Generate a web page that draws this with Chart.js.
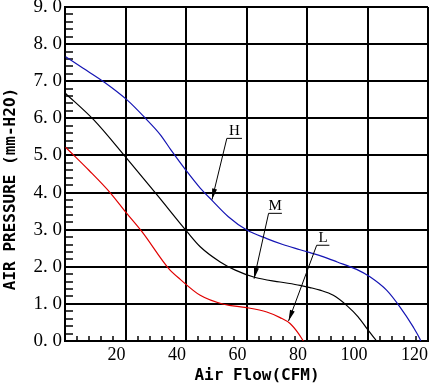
<!DOCTYPE html>
<html>
<head>
<meta charset="UTF-8">
<script src="https://cdn.jsdelivr.net/npm/chart.js"></script>
<title>Air pressure vs air flow</title>
<style>
  html, body { margin: 0; padding: 0; background: #fff; }
</style>
</head>
<body>
<canvas id="myChart" width="438" height="387"></canvas>
<script>
  // curve H (blue)
  const hFlow = [0.2, 6, 12.9, 20.6, 26.6, 31.6, 35, 40, 44.7, 48.6, 54, 60.1, 66.7, 72, 77.7, 81, 85, 90, 96.4, 100.8, 106.3, 110.7, 115.1, 117.3, 117.6];
  const hPres = [7.66, 7.35, 6.98, 6.49, 6.0, 5.55, 5.15, 4.6, 4.12, 3.79, 3.35, 2.99, 2.76, 2.6, 2.46, 2.38, 2.28, 2.13, 1.93, 1.73, 1.37, 0.92, 0.38, 0.06, 0];
  // curve M (black)
  const mFlow = [0.2, 9.6, 20, 30.5, 40.4, 44.7, 51.3, 56.3, 62.9, 71.1, 77.7, 81, 84.3, 88.7, 93.1, 96.9, 100.2, 103];
  const mPres = [6.67, 5.95, 4.96, 3.93, 2.94, 2.54, 2.13, 1.91, 1.71, 1.59, 1.5, 1.44, 1.37, 1.23, 0.96, 0.65, 0.29, 0];
  // curve L (red)
  const lFlow = [0.2, 7.9, 15.1, 20, 25.5, 34.3, 38.1, 44.7, 52.4, 60.1, 66.7, 71.1, 74.4, 77.2, 78.8];
  const lPres = [5.22, 4.6, 3.98, 3.48, 2.94, 1.95, 1.66, 1.23, 0.99, 0.9, 0.78, 0.63, 0.47, 0.2, 0];

  const xMajor = [0, 20, 40, 60, 80, 100, 120];
  const xTickLabels = ['', '20', '40', '60', '80', '100', '120'];
  const yMajor = [0, 1, 2, 3, 4, 5, 6, 7, 8, 9];
  const yTickLabels = ['0. 0', '1. 0', '2. 0', '3. 0', '4. 0', '5. 0', '6. 0', '7. 0', '8. 0', '9. 0'];

  // curve labels with leader arrows
  const noteText = ['H', 'M', 'L'];
  const noteTipX = [48.6, 62.5, 73.9];
  const noteTipY = [3.81, 1.68, 0.54];
  const noteBaseX = [53.5, 67.3, 83.2];
  const noteBaseY = [5.46, 3.44, 2.58];
  const noteEndX = [58.5, 71.7, 87.4];

  const xTitle = 'Air Flow(CFM)';
  const yTitle = 'AIR PRESSURE (mm-H2O)';

  function pts(xs, ys) {
    return xs.map((v, i) => ({ x: v, y: ys[i] }));
  }

  function near(list, v) {
    return list.findIndex(m => Math.abs(m - v) < 1e-6);
  }

  const notes = {
    id: 'notes',
    afterDraw(chart) {
      const { ctx, scales: { x, y } } = chart;
      ctx.save();
      ctx.strokeStyle = '#000';
      ctx.fillStyle = '#000';
      ctx.lineWidth = 1;
      noteText.forEach((t, i) => {
        const tx = x.getPixelForValue(noteTipX[i]);
        const ty = y.getPixelForValue(noteTipY[i]);
        const bx = x.getPixelForValue(noteBaseX[i]);
        const by = y.getPixelForValue(noteBaseY[i]);
        const ex = x.getPixelForValue(noteEndX[i]);
        ctx.beginPath();
        ctx.moveTo(ex, by);
        ctx.lineTo(bx, by);
        ctx.lineTo(tx, ty);
        ctx.stroke();
        const a = Math.atan2(ty - by, tx - bx);
        const len = 11, w = 2.5;
        ctx.beginPath();
        ctx.moveTo(tx, ty);
        ctx.lineTo(tx - len * Math.cos(a) + w * Math.sin(a), ty - len * Math.sin(a) - w * Math.cos(a));
        ctx.lineTo(tx - len * Math.cos(a) - w * Math.sin(a), ty - len * Math.sin(a) + w * Math.cos(a));
        ctx.closePath();
        ctx.fill();
        ctx.font = '15px "Liberation Serif"';
        ctx.textAlign = 'center';
        ctx.textBaseline = 'alphabetic';
        ctx.fillText(t, (bx + ex) / 2, by - 3);
      });

      // axis titles
      ctx.font = 'bold 16px "DejaVu Sans Mono"';
      ctx.textAlign = 'center';
      ctx.textBaseline = 'middle';
      ctx.fillText(xTitle, 257, 376);
      ctx.translate(11, 189);
      ctx.rotate(-Math.PI / 2);
      ctx.fillText(yTitle, 0, 0);
      ctx.restore();
    }
  };

  new Chart(document.getElementById('myChart'), {
    type: 'line',
    data: {
      datasets: [
        { label: 'H', data: pts(hFlow, hPres), borderColor: '#1414b4', borderWidth: 1.2 },
        { label: 'M', data: pts(mFlow, mPres), borderColor: '#000000', borderWidth: 1.2 },
        { label: 'L', data: pts(lFlow, lPres), borderColor: '#e00000', borderWidth: 1.2 }
      ]
    },
    options: {
      responsive: false,
      animation: false,
      devicePixelRatio: 1,
      cubicInterpolationMode: 'monotone',
      pointRadius: 0,
      layout: { padding: { top: 7, right: 10, left: 0, bottom: 0 } },
      plugins: { legend: { display: false }, tooltip: { enabled: false } },
      scales: {
        x: {
          type: 'linear',
          min: 0,
          max: 120,
          afterFit: s => { s.height = 46; s.paddingLeft = 0; s.paddingRight = 0; },
          ticks: {
            stepSize: 4,
            autoSkip: false,
            maxRotation: 0,
            align: 'end',
            padding: 8,
            color: '#000',
            font: { family: '"Liberation Serif"', size: 18 },
            callback: v => { const k = near(xMajor, v); return k >= 0 ? xTickLabels[k] : ''; }
          },
          grid: {
            color: c => near(xMajor, c.tick.value) >= 0 ? '#000' : 'rgba(0,0,0,0)',
            lineWidth: 2,
            tickColor: '#000',
            tickWidth: 1.5,
            tickLength: -5
          },
          border: { color: '#000', width: 2 }
        },
        y: {
          min: 0,
          max: 9,
          afterFit: s => { s.width = 65; s.paddingTop = 0; s.paddingBottom = 0; },
          ticks: {
            stepSize: 0.2,
            autoSkip: false,
            padding: 11,
            color: '#000',
            font: { family: '"Liberation Serif"', size: 19 },
            callback: v => { const k = near(yMajor, v); return k >= 0 ? yTickLabels[k] : ''; }
          },
          grid: {
            color: c => near(yMajor, c.tick.value) >= 0 ? '#000' : 'rgba(0,0,0,0)',
            lineWidth: 2,
            tickColor: '#000',
            tickWidth: 1.5,
            tickLength: -8
          },
          border: { color: '#000', width: 2 }
        }
      }
    },
    plugins: [notes]
  });
</script>
</body>
</html>
